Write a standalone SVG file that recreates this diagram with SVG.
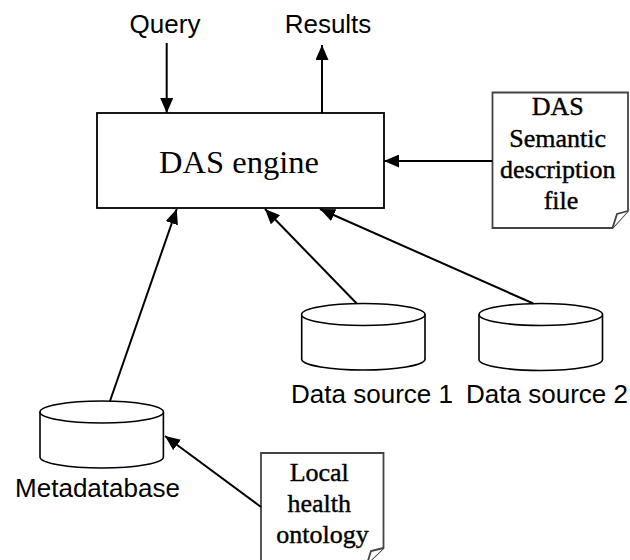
<svg xmlns="http://www.w3.org/2000/svg" width="630" height="560" viewBox="0 0 630 560">
<defs>
<style>
.sans{font-family:"Liberation Sans",Arial,sans-serif;font-size:26px;fill:#000}
.serif{font-family:"Liberation Serif","Times New Roman",serif;fill:#000}
.doc{font-family:"Liberation Serif","Times New Roman",serif;font-size:26px;fill:#000;stroke:#000;stroke-width:0.4}
.box{fill:#fff;stroke:#000;stroke-width:1.8}
.docshape{fill:#fff;stroke:#444;stroke-width:1.8}
.cyl{fill:#fff;stroke:#000;stroke-width:1.6}
.conn{stroke:#000;stroke-width:2;fill:none;marker-end:url(#arr)}
</style>
<marker id="arr" markerUnits="userSpaceOnUse" markerWidth="15" markerHeight="13" refX="15" refY="6.5" orient="auto">
<path d="M0,0 L15,6.5 L0,13 z" fill="#000"/>
</marker>
</defs>
<rect width="630" height="560" fill="#fff"/>

<g id="engine">
<rect class="box" x="97" y="113" width="287" height="95"/>
<text class="serif" x="239" y="173" font-size="32.5" text-anchor="middle">DAS engine</text>
</g>

<g id="query"><text class="sans" x="165" y="33" text-anchor="middle">Query</text></g>
<g id="results"><text class="sans" x="328" y="33" text-anchor="middle">Results</text></g>

<g id="dasdoc">
<path class="docshape" d="M492.5,92.5 H628 V211 L612.5,228 H492.5 Z"/>
<path class="docshape" d="M612.5,228 L617,214 L628,211"/>
<text class="doc" text-anchor="middle">
<tspan x="561" y="115">DAS</tspan>
<tspan x="561" y="147">Semantic</tspan>
<tspan x="561" y="178">description</tspan>
<tspan x="561" y="209">file</tspan>
</text>
</g>

<g id="ds1">
<path class="cyl" d="M301.7,314.5 V359.5 A61.7,11 0 0 0 425,359.5 V314.5"/>
<ellipse class="cyl" cx="363.3" cy="314.5" rx="61.7" ry="11"/>
<text class="sans" x="372" y="403" text-anchor="middle">Data source 1</text>
</g>

<g id="ds2">
<path class="cyl" d="M479,314.5 V359.5 A61.7,11 0 0 0 602.5,359.5 V314.5"/>
<ellipse class="cyl" cx="540.8" cy="314.5" rx="61.7" ry="11"/>
<text class="sans" x="547" y="403" text-anchor="middle">Data source 2</text>
</g>

<g id="metadb">
<path class="cyl" d="M40,412 V457 A61.7,11 0 0 0 163.4,457 V412"/>
<ellipse class="cyl" cx="101.7" cy="412" rx="61.7" ry="11"/>
<text class="sans" x="97.5" y="497" text-anchor="middle">Metadatabase</text>
</g>

<g id="ontology">
<path class="docshape" d="M261,453 H383.5 V548 L367,564 H261 Z"/>
<path class="docshape" d="M367,564 L371,551 L383.5,548"/>
<text class="doc" text-anchor="middle">
<tspan x="322.5" y="481">Local</tspan>
<tspan x="322.5" y="512">health</tspan>
<tspan x="322.5" y="543">ontology</tspan>
</text>
</g>

<g id="connectors">
<line class="conn" x1="166.7" y1="43" x2="166.7" y2="113"/>
<line class="conn" x1="322" y1="113" x2="322" y2="45"/>
<line class="conn" x1="492.5" y1="161" x2="384" y2="161"/>
<line class="conn" x1="110" y1="401" x2="176.7" y2="209"/>
<line class="conn" x1="356.7" y1="303.5" x2="265" y2="209"/>
<line class="conn" x1="533.3" y1="303.5" x2="320" y2="209"/>
<line class="conn" x1="261" y1="507" x2="165" y2="436"/>
</g>
</svg>
